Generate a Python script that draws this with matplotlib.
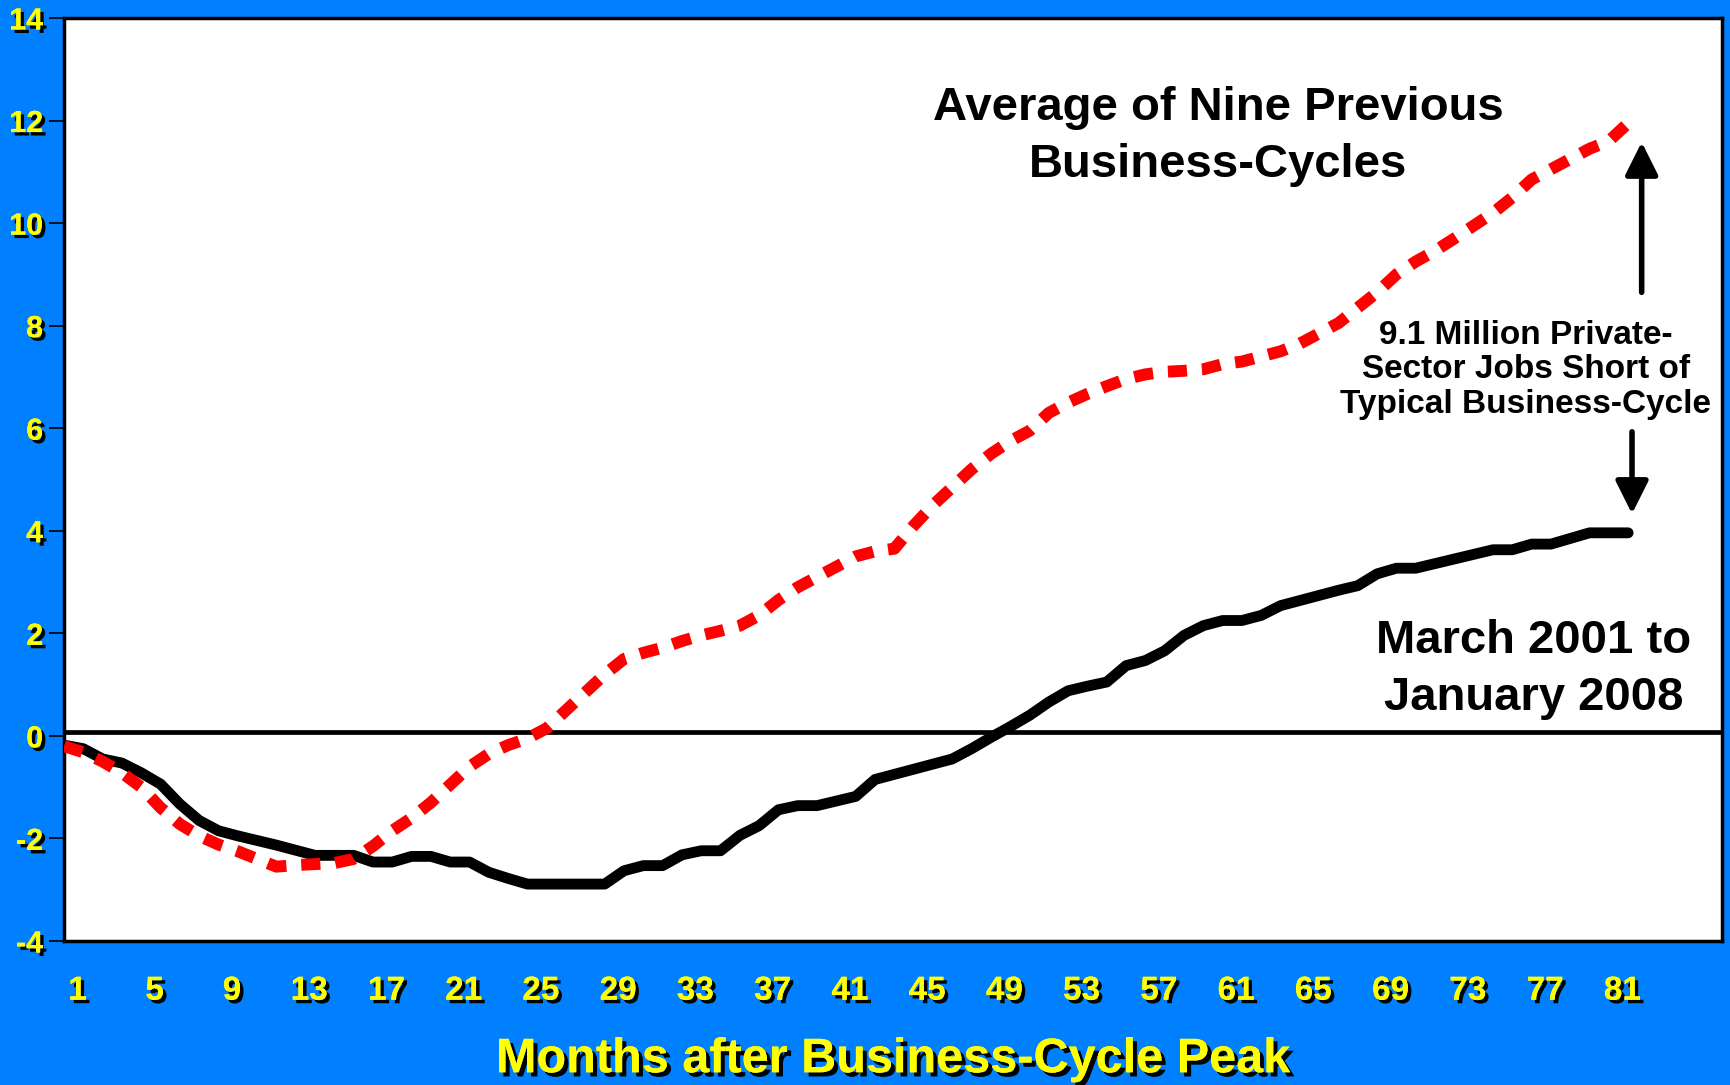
import matplotlib
matplotlib.use("Agg")
import matplotlib.pyplot as plt
import matplotlib.patheffects as pe
from matplotlib.transforms import ScaledTranslation

# --- data (millions of private-sector jobs vs. business-cycle peak) -------
months = list(range(1, 83))
current = [  # March 2001 to January 2008
    -0.18, -0.25, -0.45, -0.53, -0.72, -0.94, -1.33, -1.65, -1.85, -1.95,
    -2.04, -2.13, -2.23, -2.33, -2.33, -2.33, -2.46, -2.46, -2.35, -2.35,
    -2.46, -2.46, -2.66, -2.78, -2.89, -2.89, -2.89, -2.89, -2.89, -2.63,
    -2.53, -2.53, -2.32, -2.24, -2.24, -1.94, -1.75, -1.44, -1.36, -1.36,
    -1.27, -1.18, -0.85, -0.75, -0.65, -0.55, -0.45, -0.25, -0.03, 0.18,
    0.40, 0.66, 0.88, 0.97, 1.05, 1.37, 1.47, 1.66, 1.96, 2.15,
    2.25, 2.25, 2.35, 2.54, 2.64, 2.74, 2.84, 2.93, 3.16, 3.27,
    3.27, 3.36, 3.45, 3.54, 3.63, 3.63, 3.74, 3.74, 3.85, 3.96,
    3.96, 3.96,
]
average = [  # average of nine previous business-cycles
    -0.20, -0.32, -0.50, -0.72, -1.00, -1.40, -1.72, -1.95, -2.12, -2.25,
    -2.40, -2.55, -2.52, -2.50, -2.48, -2.40, -2.15, -1.85, -1.60, -1.30,
    -0.95, -0.60, -0.35, -0.18, -0.05, 0.15, 0.50, 0.85, 1.20, 1.50,
    1.62, 1.72, 1.85, 1.96, 2.05, 2.15, 2.35, 2.65, 2.90, 3.10,
    3.30, 3.50, 3.60, 3.65, 4.10, 4.50, 4.85, 5.20, 5.50, 5.75,
    5.95, 6.30, 6.50, 6.67, 6.82, 6.96, 7.05, 7.10, 7.12, 7.15,
    7.25, 7.30, 7.40, 7.50, 7.65, 7.85, 8.05, 8.35, 8.65, 9.00,
    9.25, 9.46, 9.70, 9.95, 10.20, 10.50, 10.85, 11.05, 11.25, 11.45,
    11.60, 11.95,
]
xtick_months = list(range(1, 82, 4))
ytick_vals = list(range(-4, 15, 2))
ytick_labels = [str(v) for v in ytick_vals]

BLUE = "#0080FF"
YELLOW = "#FFFF00"
SANS = ["Liberation Sans", "DejaVu Sans"]

fig = plt.figure(figsize=(17.3, 10.85), dpi=100, facecolor=BLUE)
ax = fig.add_axes([64 / 1730, 144 / 1085, 1658 / 1730, 923 / 1085])
ax.set_facecolor("white")

ax.axhline(0.08, color="black", lw=3.4, zorder=2)
ax.plot(months, current, color="black", lw=7.8, solid_capstyle="round",
        solid_joinstyle="round", zorder=3)
ax.plot(months, average, color="#FF0000", lw=8.6, linestyle=(0, (1.6, 1.25)),
        dash_capstyle="butt", zorder=4)

ax.set_xlim(1, 86.86)
ax.set_ylim(-4, 14)
for s in ax.spines.values():
    s.set_linewidth(2.5)
    s.set_color("black")

shadow = [pe.withSimplePatchShadow(offset=(2.5, -2.5), shadow_rgbFace="black", alpha=1),
          pe.Normal()]

ax.set_yticks(ytick_vals)
ax.set_yticklabels(ytick_labels, fontsize=22, fontweight="bold", color=YELLOW,
                   family=SANS)
ax.tick_params(axis="y", direction="out", length=11, width=1.2, color="black", pad=4)
ax.set_xticks(xtick_months)
ax.set_xticklabels([str(m) for m in xtick_months], fontsize=24, fontweight="bold",
                   color=YELLOW, family=SANS)
ax.tick_params(axis="x", length=0, pad=25)
off = ScaledTranslation(0.135, 0, fig.dpi_scale_trans)
for lab in ax.get_xticklabels():
    lab.set_transform(lab.get_transform() + off)
    lab.set_path_effects(shadow)
for lab in ax.get_yticklabels():
    lab.set_path_effects(shadow)

ax.set_xlabel("Months after Business-Cycle Peak", fontsize=35, fontweight="bold",
              color=YELLOW, family=SANS, labelpad=22,
              path_effects=[pe.withSimplePatchShadow(offset=(3, -3), shadow_rgbFace="black",
                                                     alpha=1), pe.Normal()])

ax.text(60.76, 11.69, "Average of Nine Previous\nBusiness-Cycles", ha="center",
        va="center", fontsize=34, fontweight="bold", family=SANS, linespacing=1.36)
ax.text(77.1, 1.30, "March 2001 to\nJanuary 2008", ha="center", va="center",
        fontsize=34, fontweight="bold", family=SANS, linespacing=1.38)
ax.text(76.7, 7.14, "9.1 Million Private-\nSector Jobs Short of\nTypical Business-Cycle",
        ha="center", va="center", fontsize=24, fontweight="bold", family=SANS,
        linespacing=1.14)

arrow = dict(arrowstyle="-|>", lw=4, color="black", mutation_scale=50,
             shrinkA=0, shrinkB=0)
ax.annotate("", xy=(82.7, 11.58), xytext=(82.7, 8.65), arrowprops=arrow)
ax.annotate("", xy=(82.2, 4.33), xytext=(82.2, 5.93), arrowprops=arrow)

fig.savefig("out.png", dpi=100, facecolor=BLUE)
